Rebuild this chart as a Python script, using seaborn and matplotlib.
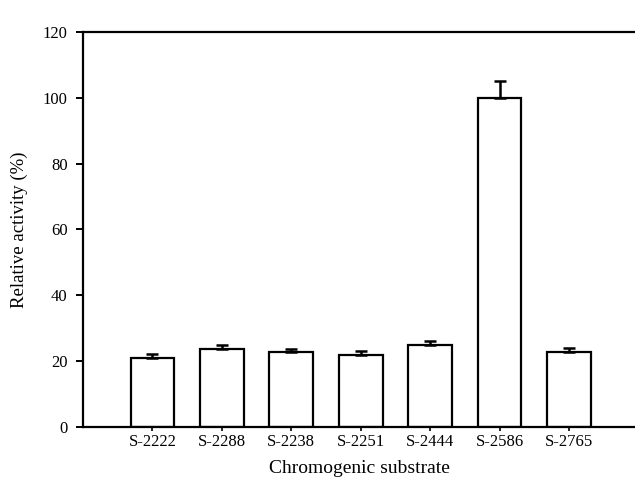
import numpy as np
import pandas as pd
import seaborn as sns
import matplotlib.pyplot as plt

substrates = ["S-2222", "S-2288", "S-2238", "S-2251", "S-2444", "S-2586", "S-2765"]
activity = [21, 23.7, 22.8, 21.9, 24.9, 100, 22.8]
err = [1.1, 1.2, 1.0, 1.1, 1.2, 5.2, 1.1]

df = pd.DataFrame({"substrate": substrates, "activity": activity, "err": err})

sns.set_style("ticks", {"text.color": "black", "axes.labelcolor": "black",
                        "xtick.color": "black", "ytick.color": "black"})
plt.rcParams["font.family"] = ["Liberation Serif", "DejaVu Serif"]

fig = plt.figure(figsize=(6.35, 4.78), dpi=100)
ax = fig.add_axes([0.1307, 0.1067, 0.8693, 0.8264])

sns.barplot(data=df, x="substrate", y="activity", color="white", edgecolor="black",
            linewidth=1.6, width=0.63, errorbar=None, ax=ax)
for p in ax.patches:
    p.set_facecolor("white")

ax.errorbar(np.arange(len(substrates)), df["activity"],
            yerr=[np.zeros(len(err)), df["err"]], fmt="none",
            ecolor="black", elinewidth=1.8, capsize=4.5, capthick=1.8)

ax.set_xlim(-1, 6.95)
ax.set_ylim(0, 120)
ax.set_yticks(range(0, 121, 20))

ax.spines["right"].set_visible(False)
for s in ["left", "bottom", "top"]:
    ax.spines[s].set_linewidth(1.6)
    ax.spines[s].set_color("black")

ax.tick_params(axis="y", direction="out", length=5, width=1.4, labelsize=12, pad=6)
ax.tick_params(axis="x", direction="out", length=3, width=1.2, labelsize=12, pad=2)

ax.set_xlabel("Chromogenic substrate", fontsize=14, labelpad=7)
ax.set_ylabel("Relative activity (%)", fontsize=13.5, labelpad=11)

fig.savefig("out.png", dpi=100)
